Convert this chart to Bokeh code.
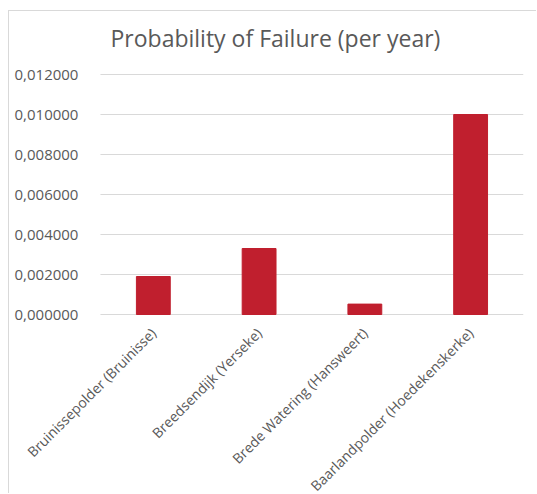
import math
from bokeh.plotting import figure
from bokeh.models import Range1d, FixedTicker, CustomJSTickFormatter, ColumnDataSource
from bokeh.embed import file_html
from bokeh.resources import INLINE

# Dike sections and their annual probability of failure
sections = [
    "Bruinissepolder (Bruinisse)",
    "Breedsendijk (Yerseke)",
    "Brede Watering (Hansweert)",
    "Baarlandpolder (Hoedekenskerke)",
]
failure_prob = [0.0019, 0.0033, 0.00052, 0.010]
y_ticks = [0.0, 0.002, 0.004, 0.006, 0.008, 0.010, 0.012]

TEXT = "#595959"
GRID = "#d9d9d9"
BAR = "#c01f2e"
FONT = "Open Sans"

n = len(sections)
slots = [i + 0.5 for i in range(n)]          # centre of each category slot
source = ColumnDataSource(data=dict(x=slots, prob=failure_prob))

# The frame covers the whole chart area, so the pinned axes and their
# slanted names are never cut off; categories occupy 0..n on the x scale.
p = figure(
    x_range=Range1d(-0.86, n),
    y_range=Range1d(-0.009, 0.0127),
    width=528, height=483,
    output_backend="svg", toolbar_location=None,
    min_border_left=0, min_border_right=14,
    min_border_top=49, min_border_bottom=0,
    title="Probability of Failure (per year)",
)
p.styles = {
    "margin-left": "8px", "margin-top": "10px",
    "border-left": f"1px solid {GRID}", "border-top": f"1px solid {GRID}",
}

# horizontal gridlines spanning the category area only
p.segment(x0=0, x1=n, y0=y_ticks, y1=y_ticks, line_color=GRID, line_width=1)

p.vbar(x="x", top="prob", width=0.32, source=source,
       fill_color=BAR, line_color=BAR)

p.title.align = "left"
p.title.offset = 101
p.title.standoff = 14
p.title.text_font = FONT
p.title.text_font_size = "23px"
p.title.text_font_style = "normal"
p.title.text_color = TEXT

p.outline_line_color = None
p.background_fill_color = "white"
p.border_fill_color = "white"
p.grid.visible = False

p.xaxis.fixed_location = 0
p.xaxis.ticker = FixedTicker(ticks=slots, minor_ticks=[])
p.xaxis.major_label_overrides = {x: name for x, name in zip(slots, sections)}
p.xaxis.axis_line_color = None
p.xaxis.major_tick_line_color = None
p.xaxis.minor_tick_line_color = None
p.xaxis.major_label_orientation = math.pi / 4
p.xaxis.major_label_standoff = 10
p.xaxis.major_label_text_font = FONT
p.xaxis.major_label_text_font_size = "14px"
p.xaxis.major_label_text_color = TEXT

p.yaxis.fixed_location = 0
p.yaxis.ticker = FixedTicker(ticks=y_ticks, minor_ticks=[])
p.yaxis.formatter = CustomJSTickFormatter(code="return tick.toFixed(6).replace('.', ',');")
p.yaxis.axis_line_color = None
p.yaxis.major_tick_line_color = None
p.yaxis.minor_tick_line_color = None
p.yaxis.major_label_standoff = 16
p.yaxis.major_label_text_font = FONT
p.yaxis.major_label_text_font_size = "15px"
p.yaxis.major_label_text_color = TEXT

open("out.html", "w").write(file_html(p, INLINE))
